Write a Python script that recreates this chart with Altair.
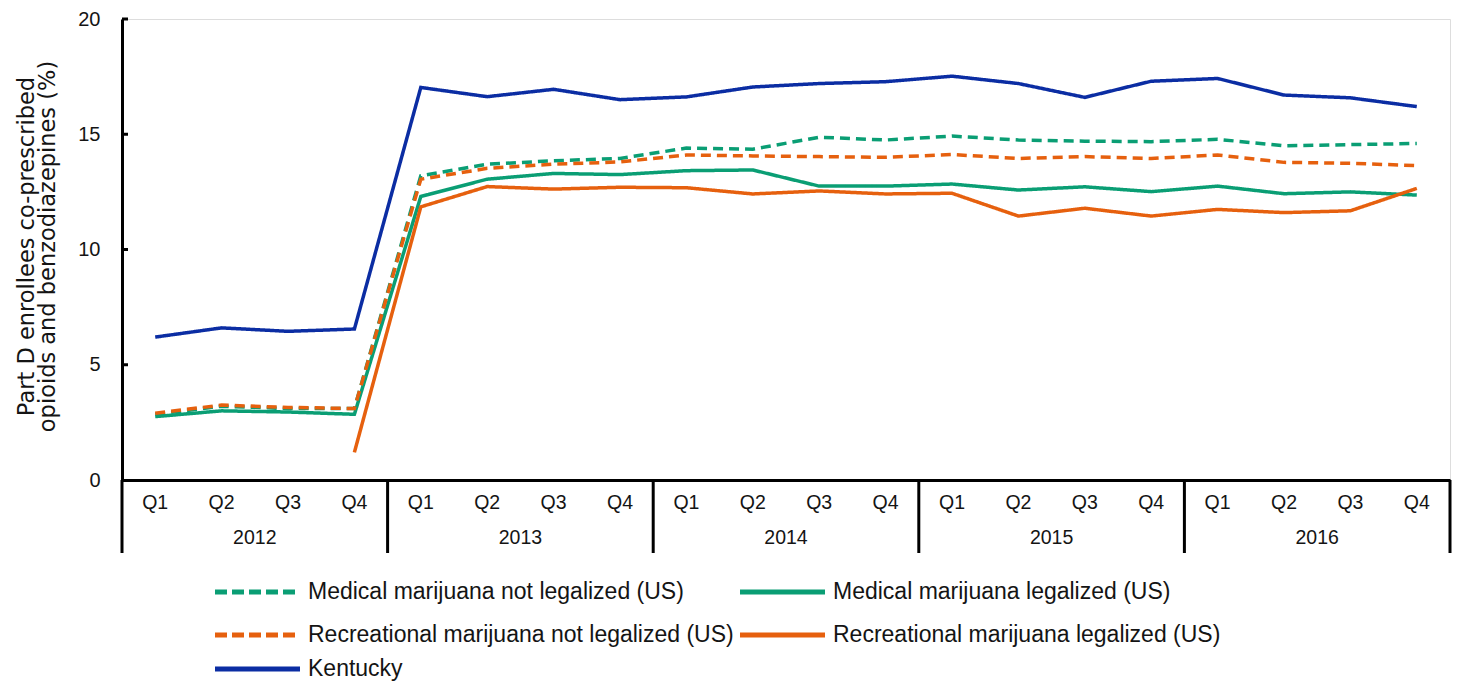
import altair as alt
import pandas as pd

quarters = ["Q1", "Q2", "Q3", "Q4"]
years = ["2012", "2013", "2014", "2015", "2016"]

series_names = [
    "Medical marijuana not legalized (US)",
    "Medical marijuana legalized (US)",
    "Recreational marijuana not legalized (US)",
    "Recreational marijuana legalized (US)",
    "Kentucky",
]

med_not = [2.85, 3.2, 3.1, 3.1, 13.2, 13.7, 13.85, 13.95, 14.4, 14.35, 14.87, 14.75,
           14.92, 14.75, 14.7, 14.68, 14.78, 14.5, 14.55, 14.6]
med_leg = [2.75, 3.0, 2.95, 2.85, 12.3, 13.05, 13.3, 13.25, 13.42, 13.45, 12.75, 12.75,
           12.84, 12.58, 12.72, 12.51, 12.75, 12.42, 12.5, 12.36]
rec_not = [2.9, 3.25, 3.15, 3.1, 13.05, 13.52, 13.7, 13.8, 14.1, 14.06, 14.03, 14.0,
           14.12, 13.95, 14.03, 13.95, 14.1, 13.78, 13.74, 13.64]
rec_leg = [None, None, None, 1.2, 11.85, 12.73, 12.62, 12.7, 12.68, 12.41, 12.54, 12.41,
           12.44, 11.45, 11.79, 11.45, 11.74, 11.6, 11.68, 12.65]
kentucky = [6.2, 6.6, 6.45, 6.55, 17.03, 16.63, 16.95, 16.5, 16.62, 17.05, 17.2, 17.28,
            17.52, 17.2, 16.6, 17.3, 17.42, 16.7, 16.58, 16.2]

colors = ["#0A9E74", "#0A9E74", "#E6600E", "#E6600E", "#0B2DA3"]
dashes = [[10, 6], [1, 0], [10, 6], [1, 0], [1, 0]]
legend_dashes = [[12, 5], [1, 0], [12, 5], [1, 0], [1, 0]]

series_values = [med_not, med_leg, rec_not, rec_leg, kentucky]

rows = []
for name, vals in zip(series_names, series_values):
    for i, v in enumerate(vals):
        rows.append({"series": name, "idx": i, "value": v})
df = pd.DataFrame(rows)

W, H = 1328, 461
FONT = "Liberation Sans"
TXT = "#141414"

xscale = alt.Scale(domain=[-0.5, 19.5], nice=False, zero=False)
yscale = alt.Scale(domain=[0, 20], nice=False)

lines = alt.Chart(df).mark_line(strokeWidth=3.5).encode(
    x=alt.X("idx:Q", scale=xscale,
            axis=alt.Axis(labels=False, ticks=False, title=None, grid=False,
                          domainWidth=3, domainColor="black")),
    y=alt.Y("value:Q", scale=yscale,
            axis=alt.Axis(values=[0, 5, 10, 15, 20], ticks=False, grid=False,
                          domainWidth=3, domainColor="black",
                          labelFontSize=20, labelPadding=22, labelColor=TXT,
                          labelFont=FONT,
                          title=["Part D enrollees co-prescribed",
                                 "opioids and benzodiazepines (%)"],
                          titleFont="DejaVu Sans", titleFontSize=22.5,
                          titleFontWeight="normal",
                          titleColor=TXT, titleAngle=-90, titleBaseline="bottom",
                          titleAlign="center", titleX=-84, titleY=227,
                          titleLineHeight=21)),
    color=alt.Color("series:N", scale=alt.Scale(domain=series_names, range=colors),
                    legend=None),
    strokeDash=alt.StrokeDash("series:N",
                              scale=alt.Scale(domain=series_names, range=dashes),
                              legend=None),
)

tick_df = pd.DataFrame({"t": [5, 10, 15, 20]})
yticks = alt.Chart(tick_df).mark_rule(color="black", strokeWidth=3).encode(
    y=alt.Y("t:Q", scale=yscale), x=alt.value(0), x2=alt.value(6)
)

sep_df = pd.DataFrame({"sep": [-0.5 + 4 * k for k in range(6)]})
seps = alt.Chart(sep_df).mark_rule(color="black", strokeWidth=3).encode(
    x=alt.X("sep:Q", scale=xscale), y=alt.value(H), y2=alt.value(H + 73)
)

q_df = pd.DataFrame({"idx": list(range(20)), "q": quarters * 5})
qlabels = alt.Chart(q_df).mark_text(fontSize=19.5, font=FONT, color=TXT,
                                    baseline="middle").encode(
    x=alt.X("idx:Q", scale=xscale), y=alt.value(H + 23), text="q:N"
)

y_df = pd.DataFrame({"pos": [1.5 + 4 * k for k in range(5)], "year": years})
ylabels = alt.Chart(y_df).mark_text(fontSize=19.5, font=FONT, color=TXT,
                                    baseline="middle").encode(
    x=alt.X("pos:Q", scale=xscale), y=alt.value(H + 58), text="year:N"
)

# custom legend, two columns
leg_layers = []
col_x = [93, 618]
row_y = [H + 112, H + 155, H + 189]
for k, name in enumerate(series_names):
    r, c = divmod(k, 2)
    x0 = col_x[c]
    y0 = row_y[r]
    ldf = pd.DataFrame({"label": [name]})
    sym = alt.Chart(ldf).mark_rule(strokeWidth=5, color=colors[k],
                                   strokeDash=legend_dashes[k],
                                   strokeCap="butt").encode(
        x=alt.value(x0), x2=alt.value(x0 + 85), y=alt.value(y0)
    )
    txt = alt.Chart(ldf).mark_text(fontSize=23, font=FONT, color=TXT, align="left",
                                   baseline="middle").encode(
        x=alt.value(x0 + 93), y=alt.value(y0), text="label:N"
    )
    leg_layers += [sym, txt]

chart = alt.layer(lines, yticks, seps, qlabels, ylabels, *leg_layers).properties(
    width=W, height=H,
    padding={"left": 114, "top": 11, "right": 5, "bottom": 675 - 11 - H},
    autosize=alt.AutoSizeParams(type="none"),
    background="white",
).configure_view(stroke=None).configure(font=FONT)

chart.save("out.html", embed_options={"renderer": "svg", "actions": False})
